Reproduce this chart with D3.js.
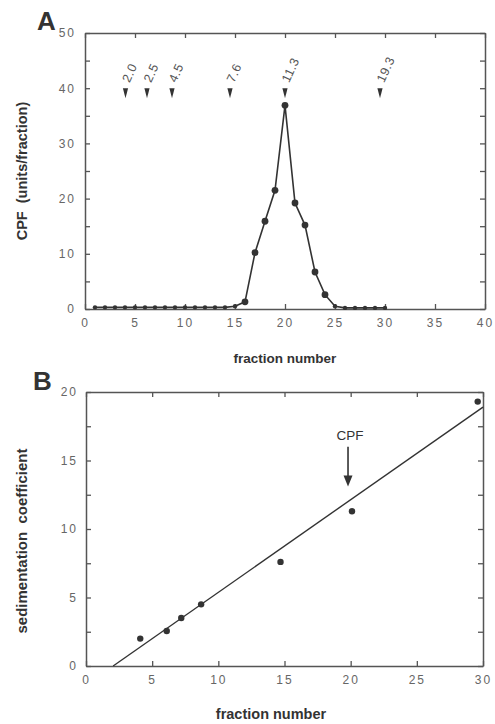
<!DOCTYPE html>
<html>
<head>
<meta charset="utf-8">
<script src="https://cdn.jsdelivr.net/npm/d3@7"></script>
<style>
  html, body { margin: 0; padding: 0; background: #fff; }
  svg { display: block; }
  .tick text { font-family: "Liberation Sans", Arial, sans-serif; fill: #666; }
</style>
</head>
<body>
<svg id="chart" width="495" height="724"></svg>
<script>
// ---- Panel A data ----
const fractions = [1,2,3,4,5,6,7,8,9,10,11,12,13,14,15,16,17,18,19,20,21,22,23,24,25,26,27,28,29,30];
const cpf = [0.3,0.3,0.3,0.3,0.3,0.3,0.3,0.3,0.3,0.3,0.3,0.3,0.3,0.3,0.5,1.3,10.2,15.9,21.5,36.9,19.2,15.2,6.7,2.6,0.5,0.2,0.2,0.2,0.2,0.2];
const markerX = [4.05, 6.2, 8.7, 14.5, 20, 29.5];
const markerLabels = ["2.0", "2.5", "4.5", "7.6", "11.3", "19.3"];
const markerTop = 40;
const markerTip = 38.2;
const aXTicks = [0,5,10,15,20,25,30,35,40];
const aYTicks = [0,5,10,15,20,25,30,35,40,45,50];
const aYLabels = [0,10,20,30,40,50];

// ---- Panel B data ----
const sedX = [4.1, 6.1, 7.2, 8.7, 14.7, 20.1, 29.6];
const sedY = [2.0, 2.55, 3.5, 4.5, 7.6, 11.3, 19.3];
const fitX = [2.05, 30];
const fitY = [0, 18.9];
const cpfArrowX = 19.8;
const cpfArrowFrom = 16.0;
const cpfArrowTo = 13.1;
const bXTicks = [0,5,10,15,20,25,30];
const bYTicks = [0,2.5,5,7.5,10,12.5,15,17.5,20];
const bYLabels = [0,5,10,15,20];

const svg = d3.select("#chart");
const axisColor = "#555";
const inkColor = "#333";
const fontFam = "'Liberation Sans', Arial, Helvetica, sans-serif";

function styleAxis(g) {
  g.select(".domain").attr("stroke", axisColor).attr("stroke-width", 1.5);
  g.selectAll(".tick line").attr("stroke", axisColor).attr("stroke-width", 1.3);
  g.selectAll(".tick text").attr("font-size", 12).attr("letter-spacing", "2px")
    .attr("fill", "#666").attr("font-family", fontFam);
}

// ===================== Panel A =====================
const A = { left: 85, right: 485, top: 33, bottom: 309 };
const xA = d3.scaleLinear().domain([0, 40]).range([A.left, A.right]);
const yA = d3.scaleLinear().domain([0, 50]).range([A.bottom, A.top]);

svg.append("g").attr("transform", `translate(0,${A.bottom})`)
  .call(d3.axisBottom(xA).tickValues(aXTicks).tickSizeInner(-5).tickSizeOuter(0).tickPadding(9))
  .call(styleAxis);
svg.append("g").attr("transform", `translate(0,${A.top})`)
  .call(d3.axisTop(xA).tickValues(aXTicks).tickSizeInner(-5).tickSizeOuter(0).tickFormat(""))
  .call(styleAxis);
svg.append("g").attr("transform", `translate(${A.left},0)`)
  .call(d3.axisLeft(yA).tickValues(aYTicks).tickSizeInner(-5).tickSizeOuter(0).tickPadding(9)
    .tickFormat(d => aYLabels.includes(d) ? d : ""))
  .call(styleAxis);
svg.append("g").attr("transform", `translate(${A.right},0)`)
  .call(d3.axisRight(yA).tickValues(aYTicks).tickSizeInner(-5).tickSizeOuter(0).tickFormat(""))
  .call(styleAxis);

const lineA = d3.line().x((d, i) => xA(fractions[i])).y(d => yA(d));
svg.append("path").datum(cpf).attr("d", lineA)
  .attr("fill", "none").attr("stroke", inkColor).attr("stroke-width", 1.6);
svg.append("g").selectAll("circle").data(cpf).join("circle")
  .attr("cx", (d, i) => xA(fractions[i])).attr("cy", d => yA(d))
  .attr("r", d => d < 1 ? 2.2 : 3.4).attr("fill", inkColor);

// markers
const mk = svg.append("g");
markerX.forEach((mx, i) => {
  const px = xA(mx), pt = yA(markerTop), pb = yA(markerTip);
  mk.append("path")
    .attr("d", `M${px - 2.6},${pt} L${px + 2.6},${pt} L${px},${pb} Z`)
    .attr("fill", inkColor);
  mk.append("text")
    .attr("transform", `translate(${px + 4},${pt - 5}) rotate(-65)`)
    .attr("font-family", fontFam).attr("font-size", 12.5).attr("fill", "#555")
    .attr("letter-spacing", "0.5px")
    .text(markerLabels[i]);
});

svg.append("text").attr("x", 285).attr("y", 363).attr("text-anchor", "middle")
  .attr("font-family", fontFam).attr("font-size", 13.5).attr("font-weight", "bold")
  .attr("fill", inkColor).text("fraction number");
svg.append("text").attr("transform", `translate(27,171) rotate(-90)`).attr("text-anchor", "middle")
  .attr("font-family", fontFam).attr("font-size", 14.5).attr("font-weight", "bold")
  .attr("fill", inkColor).style("white-space", "pre")
  .text("CPF  (units/fraction)");
svg.append("text").attr("x", 37).attr("y", 30)
  .attr("font-family", fontFam).attr("font-size", 26).attr("font-weight", "bold")
  .attr("fill", inkColor).text("A");

// ===================== Panel B =====================
const B = { left: 86, right: 483, top: 392, bottom: 666 };
const xB = d3.scaleLinear().domain([0, 30]).range([B.left, B.right]);
const yB = d3.scaleLinear().domain([0, 20]).range([B.bottom, B.top]);

svg.append("g").attr("transform", `translate(0,${B.bottom})`)
  .call(d3.axisBottom(xB).tickValues(bXTicks).tickSizeInner(-5).tickSizeOuter(0).tickPadding(9))
  .call(styleAxis);
svg.append("g").attr("transform", `translate(0,${B.top})`)
  .call(d3.axisTop(xB).tickValues(bXTicks).tickSizeInner(-5).tickSizeOuter(0).tickFormat(""))
  .call(styleAxis);
svg.append("g").attr("transform", `translate(${B.left},0)`)
  .call(d3.axisLeft(yB).tickValues(bYTicks).tickSizeInner(-5).tickSizeOuter(0).tickPadding(8)
    .tickFormat(d => bYLabels.includes(d) ? d : ""))
  .call(styleAxis);
svg.append("g").attr("transform", `translate(${B.right},0)`)
  .call(d3.axisRight(yB).tickValues(bYTicks).tickSizeInner(-5).tickSizeOuter(0).tickFormat(""))
  .call(styleAxis);

svg.append("line")
  .attr("x1", xB(fitX[0])).attr("y1", yB(fitY[0]))
  .attr("x2", xB(fitX[1])).attr("y2", yB(fitY[1]))
  .attr("stroke", inkColor).attr("stroke-width", 1.4);
svg.append("g").selectAll("circle").data(sedY).join("circle")
  .attr("cx", (d, i) => xB(sedX[i])).attr("cy", d => yB(d))
  .attr("r", 3.2).attr("fill", inkColor);

// CPF arrow
const ax = xB(cpfArrowX);
svg.append("line").attr("x1", ax).attr("x2", ax)
  .attr("y1", yB(cpfArrowFrom)).attr("y2", yB(cpfArrowTo) - 8)
  .attr("stroke", inkColor).attr("stroke-width", 1.6);
svg.append("path")
  .attr("d", `M${ax - 4.5},${yB(cpfArrowTo) - 11} L${ax + 4.5},${yB(cpfArrowTo) - 11} L${ax},${yB(cpfArrowTo)} Z`)
  .attr("fill", inkColor);
svg.append("text").attr("x", ax + 2).attr("y", yB(cpfArrowFrom) - 7).attr("text-anchor", "middle")
  .attr("font-family", fontFam).attr("font-size", 13.5).attr("fill", inkColor).text("CPF");

svg.append("text").attr("x", 271).attr("y", 719).attr("text-anchor", "middle")
  .attr("font-family", fontFam).attr("font-size", 14.5).attr("font-weight", "bold")
  .attr("fill", inkColor).text("fraction number");
svg.append("text").attr("transform", `translate(27,541) rotate(-90)`).attr("text-anchor", "middle")
  .attr("font-family", fontFam).attr("font-size", 15).attr("font-weight", "bold")
  .attr("fill", inkColor).style("white-space", "pre")
  .text("sedimentation  coefficient");
svg.append("text").attr("x", 33).attr("y", 390)
  .attr("font-family", fontFam).attr("font-size", 26).attr("font-weight", "bold")
  .attr("fill", inkColor).text("B");
</script>
</body>
</html>
